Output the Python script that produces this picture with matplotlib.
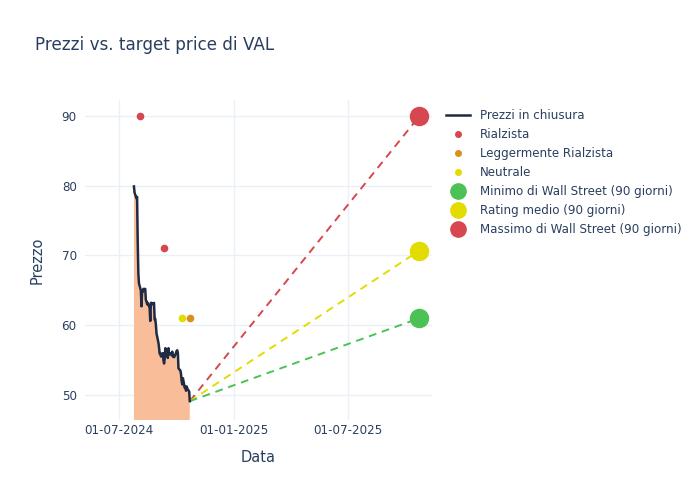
import matplotlib
matplotlib.use("Agg")
import matplotlib.pyplot as plt
import matplotlib.dates as mdates
from matplotlib.lines import Line2D
import pandas as pd

# ---- data ----
price_start = "2024-07-25"
price_end = "2024-10-23"
prices = [79.9, 79.0, 78.2, 78.4, 72.0, 67.5, 66.0, 65.0, 62.7, 65.0,
          64.8, 65.2, 65.2, 63.6, 63.4, 63.0, 63.2, 62.5, 60.6, 63.2,
          63.2, 63.0, 63.2, 60.8, 60.9, 60.0, 58.8, 57.5, 56.8, 55.9,
          56.0, 55.5, 56.0, 55.0, 54.5, 55.2, 56.7, 56.0, 55.3, 56.7,
          55.8, 56.0, 55.7, 56.2, 55.5, 55.6, 55.4, 56.0, 56.3, 56.4,
          56.0, 53.8, 53.5, 53.0, 52.0, 51.5, 52.4, 51.0, 51.2, 50.6,
          51.2, 50.9, 50.5, 49.1]

rialzista_dates = ["2024-08-03", "2024-09-11"]
rialzista_vals = [90, 71]
legg_rialzista_dates = ["2024-10-23"]
legg_rialzista_vals = [61]
neutrale_dates = ["2024-10-10"]
neutrale_vals = [61]

target_date = "2025-10-23"
target_min = 61.0
target_mean = 70.7
target_max = 90.0

title = "Prezzi vs. target price di VAL"
xticks = ["2024-07-01", "2025-01-01", "2025-07-01"]
yticks = [50, 60, 70, 80, 90]

# ---- colours ----
c_text = "#2a3f5f"
c_grid = "#ebf0f8"
c_line = "#1f2a44"
c_fill = "#f9be99"
c_red = "#d6474f"
c_orange = "#d9901f"
c_yellow = "#e3dc00"
c_green = "#4cc256"

dates = pd.bdate_range(price_start, price_end)
dates = dates[:len(prices)]

fig = plt.figure(figsize=(7, 5), dpi=100)
ax = fig.add_axes([85/700, 80/500, (432-85)/700, (420-100)/500])

ax.fill_between(dates, prices, 0, color=c_fill, linewidth=0, zorder=1)
ax.plot(dates, prices, color=c_line, lw=1.8, zorder=3)

last_d = dates[-1]
last_p = prices[-1]
td = pd.Timestamp(target_date)
for val, col in [(target_max, c_red), (target_mean, c_yellow), (target_min, c_green)]:
    ax.plot([last_d, td], [last_p, val], ls=(0, (4, 3)), color=col, lw=1.4, zorder=2)

ax.plot(pd.to_datetime(rialzista_dates), rialzista_vals, 'o', color=c_red, ms=4.5, zorder=4)
ax.plot(pd.to_datetime(legg_rialzista_dates), legg_rialzista_vals, 'o', color=c_orange, ms=4.5, zorder=4)
ax.plot(pd.to_datetime(neutrale_dates), neutrale_vals, 'o', color=c_yellow, ms=4.5, zorder=4)

ax.plot([td], [target_min], 'o', color=c_green, ms=13, zorder=5)
ax.plot([td], [target_mean], 'o', color=c_yellow, ms=13, zorder=5)
ax.plot([td], [target_max], 'o', color=c_red, ms=13, zorder=5)

ax.set_xlim(pd.Timestamp("2024-05-08"), pd.Timestamp("2025-11-12"))
ax.set_ylim(46.4, 92.3)
ax.set_xticks(pd.to_datetime(xticks))
ax.xaxis.set_major_formatter(mdates.DateFormatter("%d-%m-%Y"))
ax.set_yticks(yticks)
ax.grid(True, color=c_grid, lw=1)
ax.set_axisbelow(True)
for s in ax.spines.values():
    s.set_visible(False)
ax.tick_params(length=0, colors=c_text, labelsize=8.6, pad=6)
ax.tick_params(axis='x', pad=3)
ax.set_xlabel("Data", color=c_text, fontsize=10.5, labelpad=9)
ax.set_ylabel("Prezzo", color=c_text, fontsize=10.5, labelpad=12)

fig.text(35/700, 1 - 45/500, title, color=c_text, fontsize=12.1, va="center", ha="left")

handles = [
    Line2D([], [], color=c_line, lw=1.8),
    Line2D([], [], marker='o', ls='', color=c_red, ms=4),
    Line2D([], [], marker='o', ls='', color=c_orange, ms=4),
    Line2D([], [], marker='o', ls='', color=c_yellow, ms=4),
    Line2D([], [], marker='o', ls='', color=c_green, ms=11),
    Line2D([], [], marker='o', ls='', color=c_yellow, ms=11),
    Line2D([], [], marker='o', ls='', color=c_red, ms=11),
]
labels = ["Prezzi in chiusura", "Rialzista", "Leggermente Rialzista", "Neutrale",
          "Minimo di Wall Street (90 giorni)", "Rating medio (90 giorni)",
          "Massimo di Wall Street (90 giorni)"]
leg = fig.legend(handles, labels, loc="upper left", bbox_to_anchor=(446/700, 1 - 109/500),
                 frameon=False, fontsize=8.6, labelcolor=c_text, handlelength=2.0,
                 handletextpad=0.85, labelspacing=0.5, borderaxespad=0, borderpad=0)

fig.savefig("out.png", dpi=100, facecolor="white")
